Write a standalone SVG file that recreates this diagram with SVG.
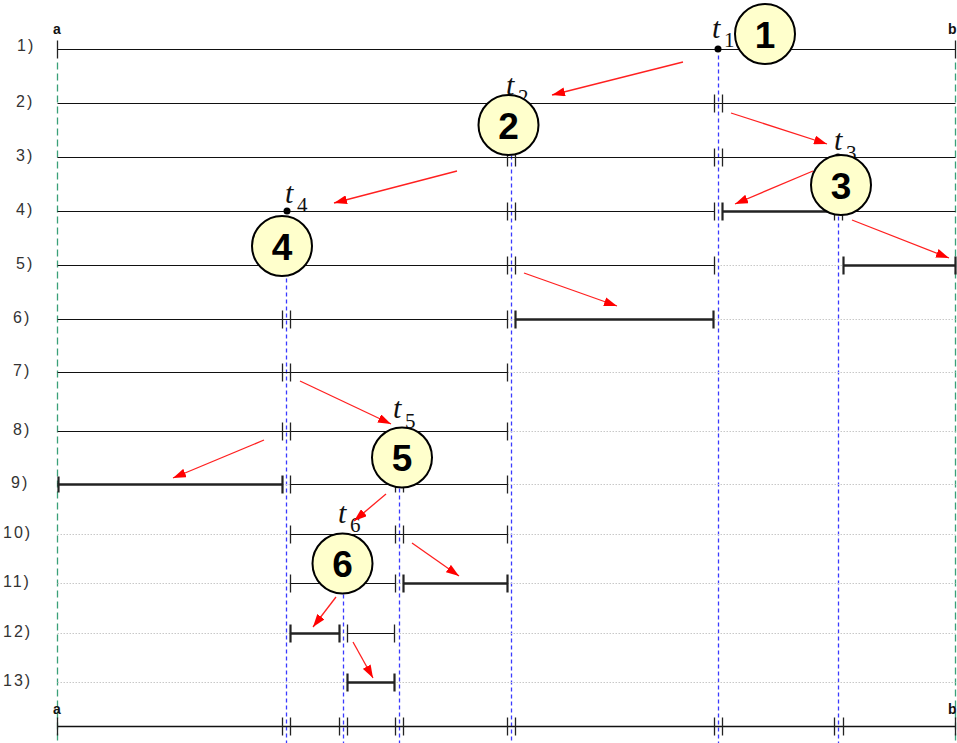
<svg xmlns="http://www.w3.org/2000/svg" width="957" height="743" viewBox="0 0 957 743">
<defs>
<marker id="ah" markerUnits="userSpaceOnUse" markerWidth="13" markerHeight="9" refX="13" refY="4.5" orient="auto">
<path d="M0,0 L13,4.5 L0,9 z" fill="#ff0000"/>
</marker>
<style>
.lbl{font-family:"Liberation Sans",Arial,sans-serif;font-size:16px;fill:#333;letter-spacing:2px}
.ab{font-family:"Liberation Sans",Arial,sans-serif;font-size:14px;font-weight:bold;fill:#111}
.t{font-family:"Liberation Serif","Times New Roman",serif;font-style:italic;font-size:30px;fill:#111}
.s{font-family:"Liberation Serif","Times New Roman",serif;font-size:21px;fill:#111}
.thin{stroke:#111;stroke-width:1;fill:none}
.bold{stroke:#222;stroke-width:2.5;fill:none}
.dot{stroke:#c8c8c8;stroke-width:1;stroke-dasharray:1.5 1.5;fill:none}
.tk{stroke:#222;stroke-width:1.3}
.tkb{stroke:#222;stroke-width:2.2}
.blue{stroke:#3a3aff;stroke-width:1.3;stroke-dasharray:4 3;fill:none}
.green{stroke:#3aa078;stroke-width:1.3;stroke-dasharray:7 4;fill:none}
.arr{stroke:#ff2020;stroke-width:1.3;fill:none;marker-end:url(#ah)}
.c{fill:#ffffcc;stroke:#000;stroke-width:2}
.n{font-family:"Liberation Sans",Arial,sans-serif;font-size:37px;font-weight:bold;fill:#000;text-anchor:middle}
</style>
</defs>
<rect width="957" height="743" fill="#ffffff"/>

<g id="row-labels">
<text class="lbl" x="17" y="51">1)</text>
<text class="lbl" x="16" y="107">2)</text>
<text class="lbl" x="16" y="161">3)</text>
<text class="lbl" x="16" y="215">4)</text>
<text class="lbl" x="16" y="269">5)</text>
<text class="lbl" x="13" y="323">6)</text>
<text class="lbl" x="13" y="376">7)</text>
<text class="lbl" x="13" y="435">8)</text>
<text class="lbl" x="11" y="488">9)</text>
<text class="lbl" x="3" y="538">10)</text>
<text class="lbl" x="3" y="587">11)</text>
<text class="lbl" x="3" y="637">12)</text>
<text class="lbl" x="3" y="686">13)</text>
</g>

<g transform="translate(0.5,0.5)">
<g id="guides">
<line class="green" x1="57" y1="62" x2="57" y2="743"/>
<line class="green" x1="955" y1="62" x2="955" y2="743"/>
<line class="blue" x1="718" y1="55" x2="718" y2="743"/>
<line class="blue" x1="511" y1="155" x2="511" y2="743"/>
<line class="blue" x1="838" y1="216" x2="838" y2="743"/>
<line class="blue" x1="286" y1="278" x2="286" y2="743"/>
<line class="blue" x1="399" y1="488" x2="399" y2="743"/>
<line class="blue" x1="343" y1="594" x2="343" y2="743"/>
</g>

<g id="dotted-rows">
<line class="dot" x1="57" y1="265" x2="955" y2="265"/>
<line class="dot" x1="57" y1="319" x2="955" y2="319"/>
<line class="dot" x1="57" y1="372" x2="955" y2="372"/>
<line class="dot" x1="57" y1="431" x2="955" y2="431"/>
<line class="dot" x1="57" y1="484" x2="955" y2="484"/>
<line class="dot" x1="57" y1="534" x2="955" y2="534"/>
<line class="dot" x1="57" y1="583" x2="955" y2="583"/>
<line class="dot" x1="57" y1="633" x2="955" y2="633"/>
<line class="dot" x1="57" y1="682" x2="955" y2="682"/>
</g>

<g id="row1">
<line class="thin" x1="57" y1="49" x2="955" y2="49"/>
<line class="tk" x1="57" y1="40" x2="57" y2="58"/>
<line class="tk" x1="955" y1="40" x2="955" y2="58"/>
<circle cx="717.5" cy="48.5" r="3.5" fill="#000"/>
</g>

<g id="row2">
<line class="thin" x1="57" y1="103" x2="955" y2="103"/>
<line class="tk" x1="714" y1="94" x2="714" y2="112"/>
<line class="tk" x1="722" y1="94" x2="722" y2="112"/>
</g>

<g id="row3">
<line class="thin" x1="57" y1="157" x2="955" y2="157"/>
<line class="tk" x1="507" y1="149" x2="507" y2="166"/>
<line class="tk" x1="515" y1="149" x2="515" y2="166"/>
<line class="tk" x1="714" y1="148" x2="714" y2="166"/>
<line class="tk" x1="722" y1="148" x2="722" y2="166"/>
<circle cx="837.5" cy="156.5" r="3.5" fill="#000"/>
</g>

<g id="row4">
<line class="thin" x1="57" y1="211" x2="714" y2="211"/>
<line class="bold" x1="722" y1="211" x2="834" y2="211"/>
<line class="thin" x1="842" y1="211" x2="955" y2="211"/>
<line class="tk" x1="507" y1="202" x2="507" y2="220"/>
<line class="tk" x1="515" y1="202" x2="515" y2="220"/>
<line class="tk" x1="714" y1="202" x2="714" y2="220"/>
<line class="tkb" x1="722" y1="202" x2="722" y2="220"/>
<line class="tk" x1="834" y1="202" x2="834" y2="220"/>
<line class="tk" x1="842" y1="202" x2="842" y2="220"/>
<circle cx="286.5" cy="210.5" r="3.5" fill="#000"/>
</g>

<g id="row5">
<line class="thin" x1="57" y1="265" x2="714" y2="265"/>
<line class="tk" x1="282" y1="257" x2="282" y2="273"/>
<line class="tk" x1="290" y1="257" x2="290" y2="273"/>
<line class="tk" x1="507" y1="256" x2="507" y2="274"/>
<line class="tk" x1="515" y1="256" x2="515" y2="274"/>
<line class="tk" x1="714" y1="256" x2="714" y2="274"/>
<line class="bold" x1="843" y1="265" x2="955" y2="265"/>
<line class="tkb" x1="843" y1="256" x2="843" y2="274"/>
<line class="tkb" x1="955" y1="256" x2="955" y2="274"/>
</g>

<g id="row6">
<line class="thin" x1="57" y1="319" x2="507" y2="319"/>
<line class="tk" x1="282" y1="310" x2="282" y2="328"/>
<line class="tk" x1="290" y1="310" x2="290" y2="328"/>
<line class="tk" x1="507" y1="310" x2="507" y2="328"/>
<line class="bold" x1="515" y1="319" x2="713" y2="319"/>
<line class="tkb" x1="515" y1="310" x2="515" y2="328"/>
<line class="tkb" x1="713" y1="310" x2="713" y2="328"/>
</g>

<g id="row7">
<line class="thin" x1="57" y1="372" x2="507" y2="372"/>
<line class="tk" x1="282" y1="363" x2="282" y2="381"/>
<line class="tk" x1="290" y1="363" x2="290" y2="381"/>
<line class="tk" x1="507" y1="363" x2="507" y2="381"/>
</g>

<g id="row8">
<line class="thin" x1="57" y1="431" x2="507" y2="431"/>
<line class="tk" x1="282" y1="422" x2="282" y2="440"/>
<line class="tk" x1="290" y1="422" x2="290" y2="440"/>
<line class="tk" x1="507" y1="422" x2="507" y2="440"/>
</g>

<g id="row9">
<line class="bold" x1="57" y1="484" x2="282" y2="484"/>
<line class="tkb" x1="58" y1="476" x2="58" y2="492"/>
<line class="tkb" x1="282" y1="475" x2="282" y2="493"/>
<line class="thin" x1="290" y1="484" x2="507" y2="484"/>
<line class="tk" x1="290" y1="475" x2="290" y2="493"/>
<line class="tk" x1="395" y1="476" x2="395" y2="492"/>
<line class="tk" x1="403" y1="476" x2="403" y2="492"/>
<line class="tk" x1="507" y1="475" x2="507" y2="493"/>
</g>

<g id="row10">
<line class="thin" x1="290" y1="534" x2="507" y2="534"/>
<line class="tk" x1="290" y1="525" x2="290" y2="543"/>
<line class="tk" x1="395" y1="525" x2="395" y2="543"/>
<line class="tk" x1="403" y1="525" x2="403" y2="543"/>
<line class="tk" x1="507" y1="525" x2="507" y2="543"/>
</g>

<g id="row11">
<line class="thin" x1="290" y1="583" x2="395" y2="583"/>
<line class="tk" x1="290" y1="574" x2="290" y2="592"/>
<line class="tk" x1="395" y1="574" x2="395" y2="592"/>
<line class="bold" x1="403" y1="583" x2="507" y2="583"/>
<line class="tkb" x1="403" y1="574" x2="403" y2="592"/>
<line class="tkb" x1="507" y1="574" x2="507" y2="592"/>
</g>

<g id="row12">
<line class="bold" x1="290" y1="633" x2="339" y2="633"/>
<line class="tkb" x1="290" y1="624" x2="290" y2="642"/>
<line class="tkb" x1="339" y1="624" x2="339" y2="642"/>
<line class="thin" x1="347" y1="633" x2="394" y2="633"/>
<line class="tk" x1="347" y1="624" x2="347" y2="642"/>
<line class="tk" x1="394" y1="624" x2="394" y2="642"/>
</g>

<g id="row13">
<line class="bold" x1="347" y1="682" x2="394" y2="682"/>
<line class="tkb" x1="347" y1="673" x2="347" y2="691"/>
<line class="tkb" x1="394" y1="673" x2="394" y2="691"/>
</g>

<g id="result-row">
<line class="thin" x1="57" y1="726" x2="955" y2="726" style="stroke-width:1.5"/>
<g class="tk">
<line x1="57" y1="717" x2="57" y2="735"/>
<line x1="282" y1="717" x2="282" y2="735"/>
<line x1="290" y1="717" x2="290" y2="735"/>
<line x1="339" y1="717" x2="339" y2="735"/>
<line x1="347" y1="717" x2="347" y2="735"/>
<line x1="395" y1="717" x2="395" y2="735"/>
<line x1="403" y1="717" x2="403" y2="735"/>
<line x1="507" y1="717" x2="507" y2="735"/>
<line x1="515" y1="717" x2="515" y2="735"/>
<line x1="714" y1="717" x2="714" y2="735"/>
<line x1="722" y1="717" x2="722" y2="735"/>
<line x1="834" y1="717" x2="834" y2="735"/>
<line x1="843" y1="717" x2="843" y2="735"/>
<line x1="955" y1="717" x2="955" y2="735"/>
</g>
</g>
</g>

<g id="end-labels">
<text class="ab" x="53" y="34">a</text>
<text class="ab" x="948" y="34">b</text>
<text class="ab" x="53" y="714">a</text>
<text class="ab" x="948" y="714">b</text>
</g>

<g id="t-labels">
<text class="t" x="712" y="38">t</text><text class="s" x="724" y="47">1</text>
<text class="t" x="506" y="95">t</text><text class="s" x="518" y="104">2</text>
<text class="t" x="834" y="150">t</text><text class="s" x="846" y="160">3</text>
<text class="t" x="285" y="203">t</text><text class="s" x="297" y="212">4</text>
<text class="t" x="393" y="418">t</text><text class="s" x="405" y="428">5</text>
<text class="t" x="338" y="523">t</text><text class="s" x="350" y="532">6</text>
</g>

<g id="connectors">
<line class="arr" x1="683" y1="62" x2="552" y2="95"/>
<line class="arr" x1="731" y1="113" x2="827" y2="144"/>
<line class="arr" x1="813" y1="171" x2="735" y2="204"/>
<line class="arr" x1="457" y1="171" x2="334" y2="203"/>
<line class="arr" x1="852" y1="220" x2="949" y2="258"/>
<line class="arr" x1="524" y1="273" x2="617" y2="306"/>
<line class="arr" x1="300" y1="381" x2="391" y2="424"/>
<line class="arr" x1="264" y1="440" x2="173" y2="478"/>
<line class="arr" x1="386" y1="494" x2="354" y2="521"/>
<line class="arr" x1="412" y1="543" x2="459" y2="576"/>
<line class="arr" x1="336" y1="597" x2="313" y2="627"/>
<line class="arr" x1="353" y1="642" x2="373" y2="678"/>
</g>

<g id="node1"><circle class="c" cx="765" cy="34" r="30"/><text class="n" x="765" y="48">1</text></g>
<g id="node2"><circle class="c" cx="508.5" cy="125" r="30"/><text class="n" x="508.5" y="139">2</text></g>
<g id="node3"><circle class="c" cx="841" cy="185" r="30"/><text class="n" x="841" y="199">3</text></g>
<g id="node4"><circle class="c" cx="282" cy="246" r="30"/><text class="n" x="282" y="260">4</text></g>
<g id="node5"><circle class="c" cx="402" cy="457.5" r="30"/><text class="n" x="402" y="471">5</text></g>
<g id="node6"><circle class="c" cx="342.5" cy="563.5" r="30"/><text class="n" x="342.5" y="577">6</text></g>
</svg>
